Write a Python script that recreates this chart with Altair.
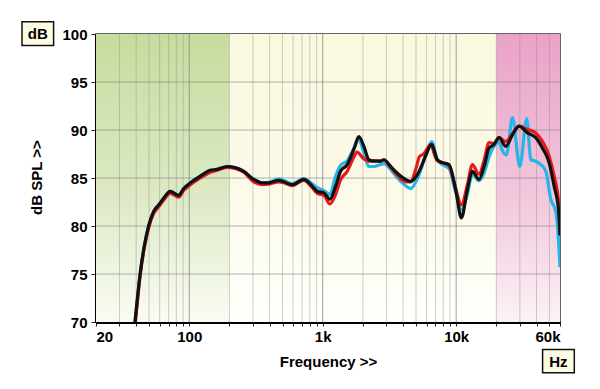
import altair as alt
import pandas as pd

# ---------------- data ----------------
black_freq = [39.2, 43, 46, 49.6, 54, 59, 64.3, 72, 83.3, 90.8, 102, 121, 144, 162, 192, 220, 256,
              304, 352, 394, 469, 511, 590, 722, 834, 910, 1020, 1131, 1250, 1360, 1527, 1712, 1867,
              2035, 2218, 2418, 2716, 2874, 3228, 3625, 4181, 4556, 5119, 5422, 5907, 6551, 7228,
              7883, 8834, 9917, 10940, 12140, 13240, 14830, 16180, 17640, 19230, 20960, 23520,
              26420, 29600, 34230, 39520, 44360, 49700, 54220, 58500, 60000]
black_db = [70.0, 75.2, 77.9, 80.0, 81.5, 82.2, 82.9, 83.6, 83.2, 83.9, 84.5, 85.2, 85.8, 85.9, 86.2, 86.1, 85.7,
            84.85, 84.5, 84.5, 84.75, 84.6, 84.3, 84.85, 84.15, 83.6, 83.45, 82.8, 84.15, 85.7, 86.4, 88.0, 89.3,
            88.3, 86.9, 86.75, 86.75, 86.9, 86.2, 85.5, 84.85, 84.65, 85.35, 86.05, 87.3, 88.5, 86.9,
            86.6, 86.4, 83.8, 80.85, 83.8, 85.7, 84.85, 86.2, 88.1, 88.5, 89.2, 88.3,
            89.5, 90.4, 89.7, 89.2, 88.1, 86.6, 84.15, 81.7, 79.0]

red_freq = [39.5, 43, 46, 49.6, 54, 59, 64.3, 72, 83.3, 90.8, 102, 121, 144, 162, 192, 220, 256,
            304, 352, 394, 469, 511, 590, 722, 834, 910, 1020, 1131, 1250, 1360, 1527, 1712, 1800,
            2035, 2218, 2418, 2716, 2874, 3228, 3625, 4181, 4556, 5000, 5290, 5700, 6400, 7228,
            7883, 8834, 9917, 10940, 12140, 13240, 14830, 16180, 17640, 19230, 20960, 23520,
            26420, 29600, 34230, 39520, 44360, 49700, 54220, 58500, 60000]
red_db = [70.0, 75.0, 77.7, 79.8, 81.3, 82.0, 82.7, 83.4, 83.0, 83.7, 84.3, 85.0, 85.6, 85.8, 86.1, 86.0, 85.6,
          84.6, 84.3, 84.35, 84.6, 84.5, 84.2, 84.75, 84.0, 83.4, 83.2, 82.3, 83.3, 84.8, 85.7, 87.2, 87.7,
          87.0, 86.75, 86.8, 86.75, 86.9, 86.1, 85.3, 84.6, 84.6, 86.0, 87.2, 87.5, 88.4, 86.8,
          86.6, 86.3, 83.9, 82.2, 84.3, 86.4, 85.4, 86.8, 88.7, 88.6, 89.2, 88.8,
          89.6, 90.4, 90.05, 89.7, 88.8, 87.3, 85.2, 82.5, 79.6]

cyan_freq = [39.2, 43, 46, 49.6, 54, 59, 64.3, 72, 83.3, 90.8, 102, 121, 144, 162, 192, 220, 256,
             304, 352, 394, 469, 511, 590, 722, 834, 910, 1020, 1131, 1250, 1360, 1527, 1712, 1867,
             2035, 2218, 2418, 2716, 2874, 3228, 3625, 4181, 4556, 5119, 5422, 5907, 6551, 7228,
             7883, 8834, 9917, 10940, 12140, 13240, 14830, 16180, 17640, 19230, 20960, 22300,
             23800, 26420, 29960, 33810, 36230, 39520, 43070, 46960, 51170, 55800, 58500, 60000]
cyan_db = [70.0, 75.2, 77.9, 80.0, 81.5, 82.2, 82.9, 83.6, 83.2, 83.9, 84.5, 85.2, 85.8, 85.9, 86.2, 86.1, 85.7,
           84.85, 84.5, 84.55, 84.9, 84.75, 84.4, 84.95, 84.4, 84.0, 83.7, 83.3, 85.2, 86.3, 86.8, 88.1, 89.0,
           87.6, 86.2, 86.2, 86.4, 86.5, 85.9, 85.0, 84.2, 83.9, 84.9, 85.8, 87.4, 88.8, 86.9,
           86.4, 86.0, 83.5, 81.7, 83.3, 85.4, 84.7, 85.5, 87.2, 88.3, 88.7, 87.8,
           87.4, 91.3, 86.2, 91.2, 86.9, 86.75, 86.4, 85.7, 82.8, 81.5, 78.5, 75.7]

band_low = [20, 200, 20000]
band_high = [200, 20000, 60000]
band_top = ["#c6dc9e", "#faf8df", "#eaa2c8"]
band_mid = ["#dce9c4", "#fcfae8", "#f1c6dc"]
band_bottom = ["#fafcf4", "#fffffd", "#fbf2f6"]

minor_freqs = [30, 40, 50, 60, 70, 80, 90, 200, 300, 400, 500, 600, 700, 800, 900,
               2000, 3000, 4000, 5000, 6000, 7000, 8000, 9000, 20000, 30000, 40000, 50000]
decade_freqs = [100, 1000, 10000]
db_grid = [75, 80, 85, 90, 95]
x_tick_values = [20] + minor_freqs + decade_freqs + [60000]
x_label_values = [20, 100, 1000, 10000, 60000]
x_label_texts = ["20", "100", "1k", "10k", "60k"]
y_tick_values = [70, 75, 80, 85, 90, 95, 100]

FONT = "Liberation Sans"
FS = 15

# ---------------- scales & axes ----------------
x_scale = alt.Scale(type="log", domain=[20, 60000], nice=False)
y_scale = alt.Scale(domain=[70, 100], nice=False, zero=False)

label_expr = " : ".join(
    f"datum.value == {v} ? '{t}'" for v, t in zip(x_label_values, x_label_texts)
) + " : ''"

x_axis = alt.Axis(values=sorted(x_tick_values), labelExpr=label_expr, grid=False,
                  labelOverlap=False, labelFont=FONT, labelFontSize=FS, labelFontWeight="bold",
                  labelColor="#000", tickColor="#222", tickSize=4, labelPadding=3,
                  domainColor="#000", domainWidth=3, title="Frequency >>",
                  titleFont=FONT, titleFontSize=FS, titleFontWeight="bold", titleColor="#000",
                  titleY=39, titleBaseline="middle")
y_axis = alt.Axis(values=y_tick_values, grid=False, labelFont=FONT, labelFontSize=FS,
                  labelFontWeight="bold", labelColor="#000", tickColor="#222", tickSize=5,
                  labelPadding=4, domainColor="#000", domainWidth=3, title="dB SPL >>",
                  titleFont=FONT, titleFontSize=FS, titleFontWeight="bold", titleColor="#000",
                  titleX=-60, titleY=143, titleAngle=270, titleAlign="center",
                  titleBaseline="middle")


def xenc(field):
    return alt.X(field, type="quantitative", scale=x_scale, axis=x_axis)


def yenc(field):
    return alt.Y(field, type="quantitative", scale=y_scale, axis=y_axis)


# ---------------- background bands ----------------
layers = []
for lo, hi, c0, c1, c2 in zip(band_low, band_high, band_top, band_mid, band_bottom):
    df = pd.DataFrame({"f1": [lo], "f2": [hi], "d1": [70], "d2": [100]})
    grad = alt.Gradient(gradient="linear", x1=0, x2=0, y1=0, y2=1,
                        stops=[alt.GradientStop(color=c0, offset=0),
                               alt.GradientStop(color=c1, offset=0.55),
                               alt.GradientStop(color=c2, offset=1)])
    layers.append(alt.Chart(df).mark_rect(color=grad).encode(
        x=xenc("f1"), x2="f2", y=yenc("d1"), y2="d2"))

# ---------------- grid ----------------
layers.append(alt.Chart(pd.DataFrame({"f": minor_freqs})).mark_rule(
    color="#8c8c8c", opacity=0.42, strokeWidth=1).encode(x=xenc("f")))
layers.append(alt.Chart(pd.DataFrame({"f": decade_freqs})).mark_rule(
    color="#808080", opacity=0.75, strokeWidth=1).encode(x=xenc("f")))
layers.append(alt.Chart(pd.DataFrame({"d": db_grid})).mark_rule(
    color="#808080", opacity=0.6, strokeWidth=1).encode(y=yenc("d")))

# ---------------- curves ----------------
for fr, db, col in [(cyan_freq, cyan_db, "#27b4e6"), (red_freq, red_db, "#e8181c"),
                    (black_freq, black_db, "#111111")]:
    df = pd.DataFrame({"f": fr, "db": db})
    layers.append(alt.Chart(df).mark_line(color=col, strokeWidth=3.2, interpolate="monotone",
                                          clip=True).encode(
        x=xenc("f"), y=yenc("db"), order="f:Q"))

# ---------------- unit boxes ----------------
for t, x0, x1, y0, y1 in [("dB", -74, -42.4, -12.2, 11.5), ("Hz", 446.6, 478.3, 315.5, 338.8)]:
    layers.append(alt.Chart(pd.DataFrame({"t": [t]})).mark_rect(
        fill="#fdfbe2", stroke="#111", strokeWidth=1.5).encode(
        x=alt.value(x0), x2=alt.value(x1), y=alt.value(y0), y2=alt.value(y1)))
    layers.append(alt.Chart(pd.DataFrame({"t": [t]})).mark_text(
        font=FONT, fontSize=FS, fontWeight="bold", color="#000", align="center",
        baseline="middle").encode(
        x=alt.value((x0 + x1) / 2), y=alt.value((y0 + y1) / 2 + 0.5), text="t:N"))

chart = alt.layer(*layers).properties(
    width=464, height=288, autosize=alt.AutoSizeParams(type="none"),
    padding={"left": 88, "top": 26, "right": 30, "bottom": 55},
    background="white",
).configure_view(stroke="#333333", strokeWidth=1.5)

chart.save("out.html", embed_options={"renderer": "svg", "actions": False})
